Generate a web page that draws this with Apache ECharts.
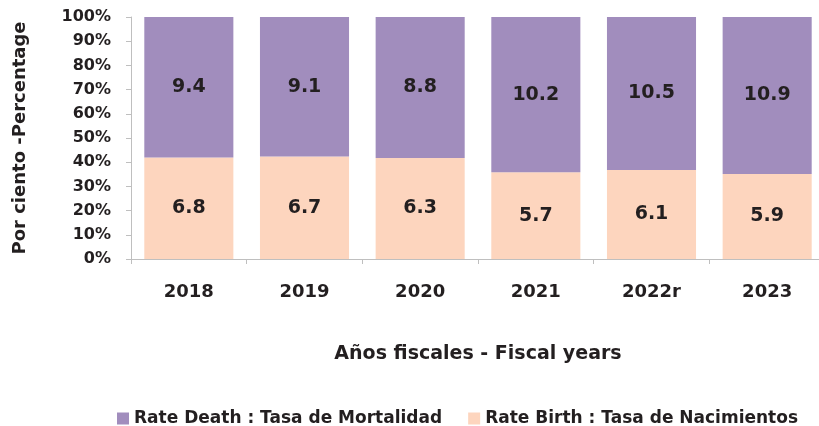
<!DOCTYPE html>
<html>
<head>
<meta charset="utf-8">
<script src="https://cdn.jsdelivr.net/npm/echarts@6/dist/echarts.min.js"></script>
<style>
  html, body { margin: 0; padding: 0; background: #fff; overflow: hidden; }
  /* plot area runs a few px past the right edge, like the source image */
  #chart { width: 825px; height: 426px; }
</style>
</head>
<body>
<div id="chart"></div>
<script>
const years = ['2018', '2019', '2020', '2021', '2022r', '2023'];
const deathRate = [9.4, 9.1, 8.8, 10.2, 10.5, 10.9];
const birthRate = [6.8, 6.7, 6.3, 5.7, 6.1, 5.9];
const yTicks = [0, 10, 20, 30, 40, 50, 60, 70, 80, 90, 100];

const FONT = '"DejaVu Sans", sans-serif';
const INK = '#231f20';

// 100% stack: share of each rate in the yearly total
const share = (vals, i) => vals[i] / (deathRate[i] + birthRate[i]) * 100;
const birthShare = birthRate.map((v, i) => ({ value: share(birthRate, i), raw: v }));
const deathShare = deathRate.map((v, i) => ({ value: share(deathRate, i), raw: v }));

const chart = echarts.init(document.getElementById('chart'));

const labelStyle = {
  show: true,
  position: 'inside',
  color: INK,
  fontFamily: FONT,
  fontWeight: 'bold',
  fontSize: 19,
  formatter: p => p.data.raw.toFixed(1)
};

chart.setOption({
  animation: false,
  grid: { left: 131, right: 0, top: 17, height: 242 },
  legend: {
    left: 112,
    top: 405,
    itemWidth: 12,
    itemHeight: 12,
    itemGap: 26,
    icon: 'rect',
    textStyle: { fontFamily: FONT, fontWeight: 'bold', fontSize: 17, color: INK },
    data: ['Rate Death : Tasa de Mortalidad', 'Rate Birth : Tasa de Nacimientos']
  },
  xAxis: {
    type: 'category',
    data: years,
    name: 'Años fiscales - Fiscal years',
    nameLocation: 'middle',
    nameGap: 86,
    nameTextStyle: { fontFamily: FONT, fontWeight: 'bold', fontSize: 19, color: INK },
    axisLine: { lineStyle: { color: '#bfbfbf' } },
    axisTick: { show: true, length: 5, lineStyle: { color: '#bfbfbf' } },
    axisLabel: { margin: 24, fontFamily: FONT, fontWeight: 'bold', fontSize: 18, color: INK }
  },
  yAxis: {
    type: 'value',
    min: yTicks[0],
    max: yTicks[yTicks.length - 1],
    interval: 10,
    name: 'Por ciento -Percentage',
    nameLocation: 'middle',
    nameGap: 102,
    nameTextStyle: { fontFamily: FONT, fontWeight: 'bold', fontSize: 18, color: INK },
    axisLine: { show: true, lineStyle: { color: '#bfbfbf' } },
    axisTick: { show: true, length: 5, lineStyle: { color: '#bfbfbf' } },
    splitLine: { show: false },
    axisLabel: { margin: 20, fontFamily: FONT, fontWeight: 'bold', fontSize: 16, color: INK, formatter: '{value}%' }
  },
  series: [
    {
      name: 'Rate Birth : Tasa de Nacimientos',
      type: 'bar',
      stack: 'total',
      barCategoryGap: '23%',
      itemStyle: { color: '#fdd5be' },
      label: labelStyle,
      data: birthShare
    },
    {
      name: 'Rate Death : Tasa de Mortalidad',
      type: 'bar',
      stack: 'total',
      barCategoryGap: '23%',
      itemStyle: { color: '#a18dbd' },
      label: labelStyle,
      data: deathShare
    }
  ]
});
</script>
</body>
</html>
